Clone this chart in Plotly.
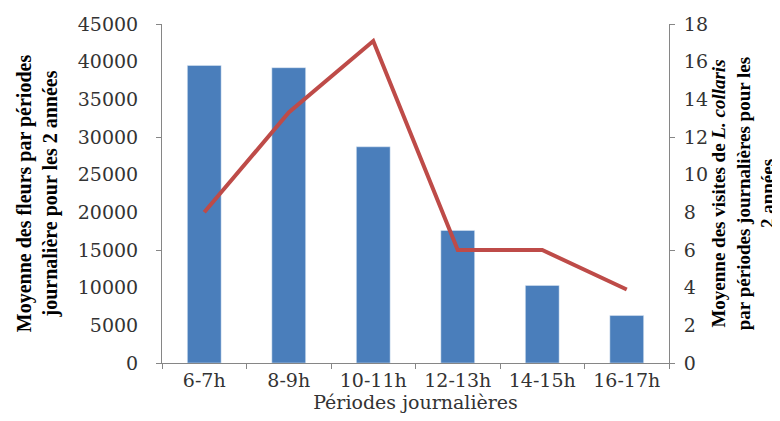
import plotly.graph_objects as go

categories = ["6-7h", "8-9h", "10-11h", "12-13h", "14-15h", "16-17h"]
fleurs = [39500, 39200, 28700, 17600, 10300, 6300]
visites = [8, 13.3, 17.1, 6, 6, 3.9]
left_ticks = [0, 5000, 10000, 15000, 20000, 25000, 30000, 35000, 40000, 45000]
right_ticks = [0, 2, 4, 6, 8, 10, 12, 14, 16, 18]

ff_title = "Liberation Serif, Times New Roman, serif"
ff_tick = "DejaVu Serif, serif"
tick_font = dict(family=ff_tick, size=19, color="#333333")
title_font = dict(family=ff_title, size=20, color="black")
title_font_r = dict(family=ff_title, size=19, color="black")

fig = go.Figure()
fig.add_trace(go.Bar(x=categories, y=fleurs, marker_color="#4A7EBB", width=0.4,
                     yaxis="y", showlegend=False))
fig.add_trace(go.Scatter(x=categories, y=visites, mode="lines",
                         line=dict(color="#BE4B48", width=4), yaxis="y2",
                         showlegend=False))

fig.update_layout(
    width=780, height=421,
    margin=dict(l=154, r=119, t=16, b=66, autoexpand=False),
    plot_bgcolor="white", paper_bgcolor="white",
    font=dict(family=ff_tick, size=19, color="black"),
    xaxis=dict(showline=True, linecolor="#868686", linewidth=1,
               ticks="outside", tickson="boundaries", ticklen=5, tickcolor="#868686",
               tickfont=tick_font, showgrid=False,
               title=dict(text="Périodes journalières", font=tick_font, standoff=0)),
    yaxis=dict(range=[0, 45000], tickvals=left_ticks, tickformat="d", showline=True,
               linecolor="#868686", ticks="", showgrid=False, zeroline=False,
               tickfont=tick_font, ticklabelstandoff=19,
               title=dict(text="<b>Moyenne des fleurs par périodes<br>journalière pour les 2 années</b>",
                          font=title_font, standoff=14)),
    yaxis2=dict(range=[0, 18], tickvals=right_ticks, overlaying="y", side="right",
                showline=True, linecolor="#868686", ticks="", showgrid=False,
                zeroline=False, tickfont=tick_font, ticklabelstandoff=10,
                title=dict(text="<b>Moyenne des visites de <i>L. collaris</i><br>par périodes journalières pour les<br>2 années</b>",
                           font=title_font_r, standoff=3)),
    yaxis3=dict(range=[0, 45000], tickvals=[0, 15000, 30000, 45000], overlaying="y",
                side="left", showticklabels=False, ticks="outside", ticklen=5,
                tickcolor="#868686", showgrid=False, zeroline=False, showline=False),
    yaxis4=dict(range=[0, 18], tickvals=[0, 6, 12, 18], overlaying="y", side="right",
                showticklabels=False, ticks="outside", ticklen=5,
                tickcolor="#868686", showgrid=False, zeroline=False, showline=False),
)
fig.add_trace(go.Scatter(x=[categories[0]], y=[0], yaxis="y3", mode="markers",
                         marker=dict(opacity=0), showlegend=False, hoverinfo="skip"))
fig.add_trace(go.Scatter(x=[categories[0]], y=[0], yaxis="y4", mode="markers",
                         marker=dict(opacity=0), showlegend=False, hoverinfo="skip"))

fig.write_html("out.html")
